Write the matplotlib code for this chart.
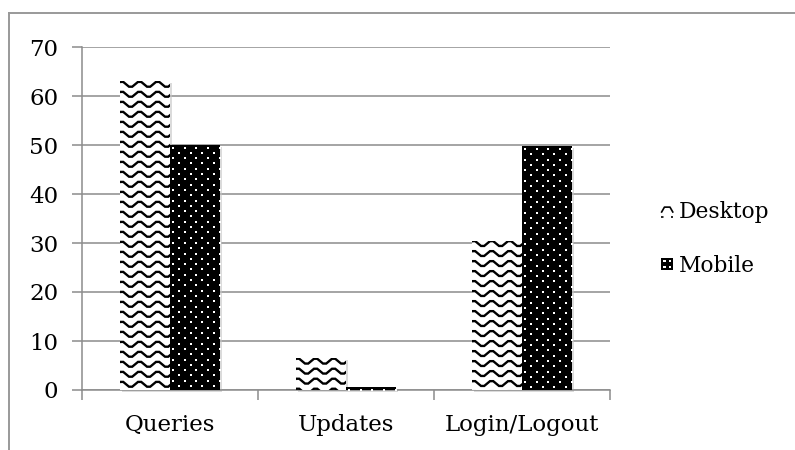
import numpy as np
import matplotlib
matplotlib.use("Agg")
import matplotlib.pyplot as plt
from matplotlib.patches import Rectangle
from matplotlib.legend_handler import HandlerBase
from matplotlib.lines import Line2D

categories = ["Queries", "Updates", "Login/Logout"]
desktop = [63, 6.5, 30.5]
mobile = [50, 0.6, 49.7]
series_names = ["Desktop", "Mobile"]
yticks = [0, 10, 20, 30, 40, 50, 60, 70]

FONT = "DejaVu Serif"
FS = 16.5
GRID = "#8c8c8c"

fig = plt.figure(figsize=(7.95, 4.5), dpi=100)
W, H = 795, 450
ax = fig.add_axes([82 / W, 1 - 390 / H, 528 / W, 343 / H])

# outer chart-area frame
fig.add_artist(Line2D([9 / W, 9 / W], [-0.1, 1 - 13 / H], color="#999999", lw=1.4))
fig.add_artist(Line2D([9 / W, 1.1], [1 - 13 / H, 1 - 13 / H], color="#999999", lw=1.4))

x = np.arange(len(categories))
bw = 50 / 176

ax.set_xlim(-0.5, len(categories) - 0.5)
ax.set_ylim(0, 70)

ax.set_yticks(yticks)
ax.set_yticklabels([str(t) for t in yticks], fontfamily=FONT, fontsize=FS)
ax.yaxis.grid(True, color=GRID, lw=1.1)
ax.set_axisbelow(True)

ax.set_xticks(np.arange(-0.5, len(categories)), minor=False)
ax.set_xticklabels([])
ax.set_xticks(x, minor=True)
ax.set_xticklabels(categories, minor=True, fontfamily=FONT, fontsize=FS)
ax.tick_params(axis="x", which="major", direction="out", length=7, color=GRID, width=1.1)
ax.tick_params(axis="x", which="minor", length=0, pad=17)
ax.tick_params(axis="y", direction="out", length=7, color=GRID, width=1.1, pad=10)

for s in ["top", "right"]:
    ax.spines[s].set_visible(False)
for s in ["left", "bottom"]:
    ax.spines[s].set_color(GRID)
    ax.spines[s].set_linewidth(1.1)

# pixel -> data scale factors
px_x = 1 / 176.0
px_y = 70 / 343.0


def shadow(x0, w, h):
    ax.add_patch(Rectangle((x0 + 2 * px_x, -2 * px_y), w, h, facecolor="#c4c4c4",
                           edgecolor="none", alpha=0.6, zorder=2, clip_on=False))


def zigzag_fill(bar):
    x0, w, h = bar.get_x(), bar.get_width(), bar.get_height()
    period = 18 * px_x
    amp = 2.4 * px_y
    row = 10 * px_y
    # one wave: flat crest, slope down, flat trough, slope up
    phase = np.array([0.0, 0.18, 0.5, 0.68])
    level = np.array([1.0, 1.0, -1.0, -1.0])
    n = int(w / period) + 3
    xs = np.concatenate([x0 - period + (k + phase) * period for k in range(n)])
    ys_off = np.tile(level, n) * amp
    yy = h - 3 * px_y
    while yy > -row:
        ln, = ax.plot(xs, yy + ys_off, color="black", lw=1.7, zorder=4,
                      solid_joinstyle="miter")
        ln.set_clip_path(bar)
        yy -= row


def dots_fill(bar):
    x0, w, h = bar.get_x(), bar.get_width(), bar.get_height()
    dx, dy = 11.7 * px_x, 5.3 * px_y
    pts_x, pts_y = [], []
    r = 0
    yy = h - 2.5 * px_y
    while yy > 0:
        off = (dx / 2) if r % 2 else 0
        xx = x0 + 3 * px_x + off
        while xx < x0 + w:
            pts_x.append(xx)
            pts_y.append(yy)
            xx += dx
        yy -= dy
        r += 1
    sc = ax.scatter(pts_x, pts_y, s=3.6, marker="s", color="white", lw=0, zorder=4)
    sc.set_clip_path(bar)


bars_d = ax.bar(x - bw / 2, desktop, bw, color="white", edgecolor="none", zorder=3)
bars_m = ax.bar(x + bw / 2, mobile, bw, color="black", edgecolor="none", zorder=3)
for b in list(bars_d) + list(bars_m):
    shadow(b.get_x(), b.get_width(), b.get_height())
for b in bars_d:
    zigzag_fill(b)
for b in bars_m:
    dots_fill(b)


class ZigzagHandle(HandlerBase):
    def create_artists(self, legend, orig, xd, yd, width, height, fontsize, trans):
        cx = xd + width / 2
        cy = yd + height / 2
        xs = [cx - 4, cx - 2, cx + 2, cx + 4]
        ys = [cy - 1, cy + 2.5, cy + 2.5, cy - 1]
        l1 = Line2D(xs, ys, color="black", lw=1.2, transform=trans)
        l2 = Line2D([cx - 4.5, cx + 4.5], [cy - 4.5, cy - 4.5], color="black", lw=1.2,
                    ls=(0, (1.5, 4.5)), transform=trans)
        return [l1, l2]


class DotsHandle(HandlerBase):
    def create_artists(self, legend, orig, xd, yd, width, height, fontsize, trans):
        cx = xd + width / 2
        cy = yd + height / 2
        sq = Rectangle((cx - 4.5, cy - 4.5), 9, 9, facecolor="black", edgecolor="none",
                       transform=trans)
        arts = [sq]
        for ddx, ddy in [(-2, 2), (2, 2), (-2, -2), (2, -2)]:
            arts.append(Rectangle((cx + ddx - 0.8, cy + ddy - 0.8), 1.6, 1.6,
                                  facecolor="white", edgecolor="none", transform=trans))
        return arts


h1, h2 = object(), object()
leg = fig.legend([h1, h2], series_names, loc="center left",
                 bbox_to_anchor=(640 / W, 1 - 239 / H), frameon=False,
                 handler_map={h1: ZigzagHandle(), h2: DotsHandle()},
                 handlelength=0.7, handletextpad=0.2, labelspacing=1.45,
                 prop={"family": FONT, "size": FS * 0.95})

fig.savefig("out.png", dpi=100)
